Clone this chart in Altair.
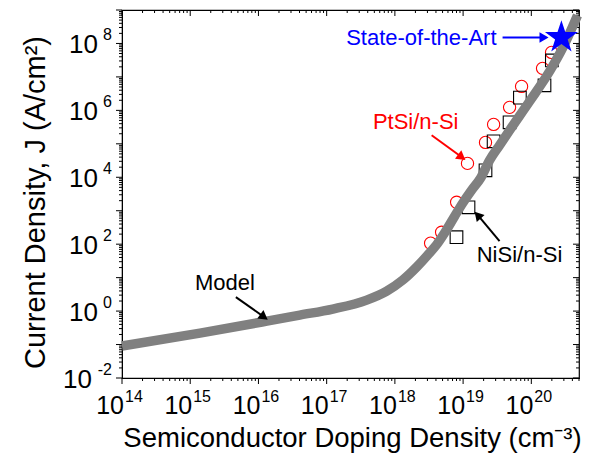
import math
import altair as alt
import pandas as pd

# ---------------- data ----------------
# Model curve: doping density N (cm^-3) vs current density J (A/cm^2)
model_N = [1.00e14, 1.39e15, 1.33e16, 4.04e16, 1.23e17, 3.86e17, 7.59e17, 1.30e18,
           2.08e18, 3.02e18, 4.24e18, 5.55e18, 7.52e18, 9.84e18, 1.33e19, 1.80e19,
           2.44e19, 3.42e19, 4.80e19, 9.42e19, 1.85e20, 2.86e20, 4.74e20]
model_J = [0.0902, 0.220, 0.502, 0.760, 1.15, 2.13, 3.95, 8.41,
           20.6, 47.0, 107, 244, 686, 1675, 4093, 9333,
           3.21e4, 9.02e4, 2.53e5, 1.86e6, 1.46e7, 7.10e7, 6.86e8]

# PtSi/n-Si measurements (red open circles)
ptsi_N = [3.34e18, 4.84e18, 8.04e18, 1.16e19, 2.13e19, 2.80e19, 4.80e19, 7.20e19, 1.46e20, 1.98e20]
ptsi_J = [107, 228, 1795, 2.6e4, 1.1e5, 3.8e5, 1.23e6, 5.2e6, 1.8e7, 5.4e7]

# NiSi/n-Si measurements (black open squares)
nisi_N = [8.0e18, 1.2e19, 2.13e19, 2.8e19, 4.8e19, 6.8e19, 1.56e20, 2.0e20]
nisi_J = [162, 1270, 1.62e4, 1.19e5, 4.4e5, 2.4e6, 5.6e6, 3.1e7]

# State-of-the-art point (blue star)
star_N = [2.76e20]
star_J = [1.7e8]

# axis ticks / labels
x_major = [1e14, 1e15, 1e16, 1e17, 1e18, 1e19, 1e20]
x_label_exp = ["14", "15", "16", "17", "18", "19", "20"]
x_minor = [k * 10.0 ** e for e in range(14, 21) for k in range(2, 10) if k * 10.0 ** e <= 5e20]
y_major = [10.0 ** e for e in range(-2, 10)]
y_minor = [k * 10.0 ** e for e in range(-2, 9) for k in range(2, 10)]
y_label_val = [1e-2, 1e0, 1e2, 1e4, 1e6, 1e8]
y_label_exp = ["-2", "0", "2", "4", "6", "8"]

# annotations
ann_text = ["State-of-the-Art", "PtSi/n-Si", "NiSi/n-Si", "Model"]
ann_N = [3.09e19, 2.02e18, 6.71e19, 3.22e15]
ann_J = [1.41e8, 4.39e5, 47, 6.86]
ann_color = ["#0000ff", "#ff0000", "#000000", "#000000"]
ann_align = ["right", "center", "center", "center"]
arrow_N = [3.79e19, 3.46e18, 3.42e19, 4.67e15]
arrow_J = [1.51e8, 1.8e5, 123, 2.62]
head_N = [1.46e20, 9.18e18, 1.69e19, 1.16e16]
head_J = [1.51e8, 4.24e4, 686, 0.71]
head_angle = [90, 127, 318, 126]

# ---------------- chart ----------------
W, H = 457, 368
FONT = "Liberation Sans"

xs = alt.Scale(type="log", domain=[1e14, 5e20], nice=False)
ys = alt.Scale(type="log", domain=[1e-2, 1e9], nice=False)

xaxis = alt.Axis(labels=False, ticks=False, grid=False, domain=True, domainColor="black",
                 title="Semiconductor Doping Density (cm⁻³)", titleFont=FONT, titleFontSize=27.5,
                 titleFontWeight="normal", titleColor="black", titleX=230, titleY=68,
                 titleAlign="center", titleBaseline="alphabetic")
yaxis = alt.Axis(labels=False, ticks=False, grid=False, domain=True, domainColor="black",
                 title="Current Density, J (A/cm²)", titleFont=FONT, titleFontSize=29,
                 titleFontWeight="normal", titleColor="black", titleX=-78, titleY=192,
                 titleAngle=270, titleAlign="center", titleBaseline="alphabetic")


def X(f="N"):
    return alt.X(f"{f}:Q", scale=xs, axis=xaxis)


def Y(f="J"):
    return alt.Y(f"{f}:Q", scale=ys, axis=yaxis)


model_df = pd.DataFrame({"N": model_N, "J": model_J})
ptsi_df = pd.DataFrame({"N": ptsi_N, "J": ptsi_J})
nisi_df = pd.DataFrame({"N": nisi_N, "J": nisi_J})
star_df = pd.DataFrame({"N": star_N, "J": star_J})
xmaj_df = pd.DataFrame({"N": x_major})
xmin_df = pd.DataFrame({"N": x_minor})
ymaj_df = pd.DataFrame({"J": y_major})
ymin_df = pd.DataFrame({"J": y_minor})
xlab_df = pd.DataFrame({"N": x_major, "e": x_label_exp})
ylab_df = pd.DataFrame({"J": y_label_val, "e": y_label_exp})
ann_df = pd.DataFrame({"N": ann_N, "J": ann_J, "t": ann_text, "c": ann_color, "a": ann_align})
arr_df = pd.DataFrame({"N": arrow_N, "J": arrow_J, "N2": head_N, "J2": head_J,
                       "ang": head_angle, "c": ann_color})

layers = []

# tick marks: bottom/left outward, top/right inward
for df, ln in ((xmaj_df, 6), (xmin_df, 3)):
    layers.append(alt.Chart(df).mark_rule(color="black", strokeWidth=1).encode(
        x=X(), y=alt.value(H), y2=alt.value(H + ln)))
    layers.append(alt.Chart(df).mark_rule(color="black", strokeWidth=1).encode(
        x=X(), y=alt.value(0), y2=alt.value(ln)))
for df, ln in ((ymaj_df, 6), (ymin_df, 3)):
    layers.append(alt.Chart(df).mark_rule(color="black", strokeWidth=1).encode(
        y=Y(), x=alt.value(-ln), x2=alt.value(0)))
    layers.append(alt.Chart(df).mark_rule(color="black", strokeWidth=1).encode(
        y=Y(), x=alt.value(W - ln), x2=alt.value(W)))

# tick labels with superscript exponents
layers.append(alt.Chart(xlab_df).mark_text(text="10", align="right", baseline="alphabetic",
                                           font=FONT, fontSize=25, dx=2, color="black").encode(
    x=X(), y=alt.value(H + 36)))
layers.append(alt.Chart(xlab_df).mark_text(align="left", baseline="alphabetic",
                                           font=FONT, fontSize=16, dx=3, color="black").encode(
    x=X(), y=alt.value(H + 24), text="e:N"))

ylab_one = alt.Chart(ylab_df).transform_filter("length(datum.e) == 1")
ylab_two = alt.Chart(ylab_df).transform_filter("length(datum.e) == 2")
layers.append(ylab_one.mark_text(text="10", align="right", baseline="alphabetic",
                                 font=FONT, fontSize=26, dy=10, color="black").encode(
    y=Y(), x=alt.value(-24)))
layers.append(ylab_two.mark_text(text="10", align="right", baseline="alphabetic",
                                 font=FONT, fontSize=26, dy=10, color="black").encode(
    y=Y(), x=alt.value(-30)))
layers.append(alt.Chart(ylab_df).mark_text(align="right", baseline="alphabetic",
                                           font=FONT, fontSize=16, dy=-3, color="black").encode(
    y=Y(), x=alt.value(-10), text="e:N"))

# data markers
layers.append(alt.Chart(ptsi_df).mark_point(shape="circle", filled=False, size=150,
                                            color="#ff0000", strokeWidth=1.1, opacity=1).encode(
    x=X(), y=Y()))
layers.append(alt.Chart(nisi_df).mark_point(shape="square", filled=False, size=160,
                                            color="#000000", strokeWidth=1.1, opacity=1).encode(
    x=X(), y=Y()))

# model line
layers.append(alt.Chart(model_df).mark_line(color="#808080", strokeWidth=9.5,
                                            interpolate="monotone", strokeCap="butt").encode(
    x=X(), y=Y()))

# star
pts = []
for i in range(10):
    r = 1.0 if i % 2 == 0 else 0.382
    a = math.radians(-90 + 36 * i)
    pts.append(f"{r * math.cos(a):.4f},{r * math.sin(a) + 0.1:.4f}")
star_path = "M" + "L".join(pts) + "Z"
layers.append(alt.Chart(star_df).mark_point(shape=star_path, filled=True, size=1200,
                                            color="#0000ff", opacity=1).encode(
    x=X(), y=Y()))

# annotation arrows
layers.append(alt.Chart(arr_df).mark_rule(strokeWidth=2).encode(
    x=X(), y=Y(), x2="N2:Q", y2="J2:Q", color=alt.Color("c:N", scale=None)))
layers.append(alt.Chart(arr_df).mark_point(shape="triangle", filled=True, size=110, opacity=1).encode(
    x=X("N2"), y=Y("J2"), angle=alt.Angle("ang:Q", scale=None), color=alt.Color("c:N", scale=None)))

# annotation texts
layers.append(alt.Chart(ann_df).transform_filter("datum.a == 'right'").mark_text(
    align="right", baseline="middle", font=FONT, fontSize=22).encode(
    x=X(), y=Y(), text="t:N", color=alt.Color("c:N", scale=None)))
layers.append(alt.Chart(ann_df).transform_filter("datum.a == 'center'").mark_text(
    align="center", baseline="middle", font=FONT, fontSize=22).encode(
    x=X(), y=Y(), text="t:N", color=alt.Color("c:N", scale=None)))

chart = alt.layer(*layers).properties(
    width=W, height=H,
    padding={"left": 114, "top": 2, "right": 9, "bottom": 76},
    autosize=alt.AutoSizeParams(type="none"),
).configure_view(stroke="black", strokeWidth=1.2)

chart.save("out.html", embed_options={"renderer": "svg", "actions": False})
